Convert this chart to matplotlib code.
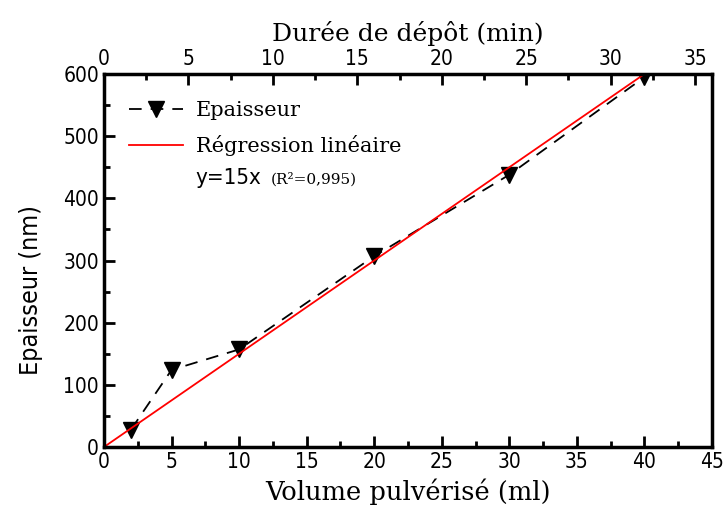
import matplotlib.pyplot as plt
from matplotlib.ticker import MultipleLocator

# data
volume = [2, 5, 10, 20, 30, 40]
epaisseur = [28, 124, 157, 307, 438, 595]
reg_x = [0, 40]
slope = 15

sans = {'family': 'DejaVu Sans', 'stretch': 'condensed'}
serif = 'DejaVu Serif'

fig = plt.figure(figsize=(7.24, 5.15), dpi=100)
ax = fig.add_axes([0.1436, 0.132, 0.8398, 0.7243])

ax.plot(volume, epaisseur, color='black', linestyle=(0, (7, 5)), linewidth=1.3,
        marker='v', markersize=12, label='Epaisseur')
ax.plot(reg_x, [slope * v for v in reg_x], color='red', linewidth=1.3,
        label='Régression linéaire')

ax.set_xlim(0, 45)
ax.set_ylim(0, 600)
ax.xaxis.set_major_locator(MultipleLocator(5))
ax.xaxis.set_minor_locator(MultipleLocator(2.5))
ax.yaxis.set_major_locator(MultipleLocator(100))
ax.yaxis.set_minor_locator(MultipleLocator(50))
ax.tick_params(which='both', direction='in', width=2, labelsize=15)
ax.tick_params(which='major', length=8)
ax.tick_params(which='minor', length=4)
ax.tick_params(axis='y', which='both', right=False)
for s in ax.spines.values():
    s.set_linewidth(2.5)
for lab in ax.get_xticklabels() + ax.get_yticklabels():
    lab.set_family(sans['family'])
    lab.set_stretch(sans['stretch'])

ax.set_xlabel('Volume pulvérisé (ml)', fontsize=18.5, family=serif, labelpad=5)
ax.set_ylabel('Epaisseur (nm)', fontsize=18, **sans)
ax.yaxis.set_label_coords(-0.1, 0.42)

top = ax.twiny()
top.set_xlim(0, 36)
top.xaxis.set_major_locator(MultipleLocator(5))
top.xaxis.set_minor_locator(MultipleLocator(2.5))
top.tick_params(which='both', direction='in', width=2, labelsize=15)
top.tick_params(which='major', length=8)
top.tick_params(which='minor', length=4)
for lab in top.get_xticklabels():
    lab.set_family(sans['family'])
    lab.set_stretch(sans['stretch'])
top.set_xlabel('Durée de dépôt (min)', fontsize=18, family=serif, labelpad=6)

leg = ax.legend(loc='upper left', bbox_to_anchor=(0.0, 0.995), frameon=False,
                prop={'family': serif, 'size': 15}, handlelength=2.6,
                handletextpad=0.6, borderaxespad=0.8, labelspacing=0.72)
ax.text(0.151, 0.722, 'y=15x', transform=ax.transAxes, fontsize=16,
        va='center', **sans)
ax.text(0.275, 0.717, '(R²=0,995)', transform=ax.transAxes, fontsize=11,
        family=serif, va='center')

fig.savefig('out.png', dpi=100)
